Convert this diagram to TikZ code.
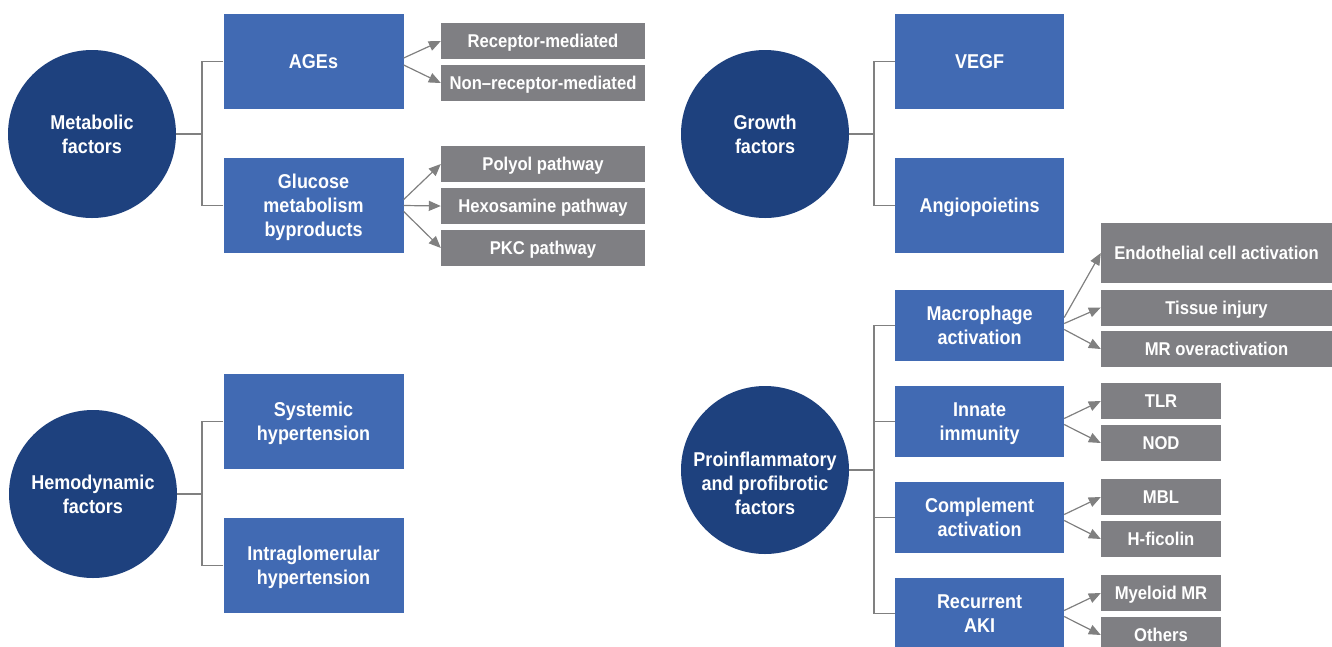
\documentclass[tikz,border=0pt]{standalone}
\usepackage{fontspec}
\setmainfont{Liberation Sans}[FakeStretch=0.9]
\usetikzlibrary{arrows.meta}
\definecolor{dkblue}{RGB}{30,65,126}
\definecolor{mblue}{RGB}{65,106,179}
\definecolor{gbox}{RGB}{127,127,131}
\definecolor{lgray}{RGB}{128,128,128}
\newcommand\bigf{\fontsize{20}{24}\selectfont\bfseries}
\newcommand\smallf{\fontsize{18.5}{22}\selectfont\bfseries}
\tikzset{
  circ/.style={circle, fill=dkblue, minimum size=168pt, inner sep=0pt},
  ctext/.style={text=white, align=center, font=\bigf, inner sep=0pt, text depth=0pt},
  bluebox/.style={rectangle, fill=mblue, text=white, align=center, font=\bigf, inner sep=0pt, text depth=0pt},
  graybox/.style={rectangle, fill=gbox, text=white, align=center, font=\smallf, inner sep=0pt, text height=13.3pt, text depth=0pt},
  link/.style={draw=lgray, line width=1.5pt},
  arr/.style={draw=lgray, line width=1.2pt, -{Triangle[length=12pt,width=10pt]}}
}
\begin{document}
\begin{tikzpicture}[x=1pt,y=-1pt]
\useasboundingbox (0,0) rectangle (1332,646);
\clip (0,0) rectangle (1332,646);
% ---------- Metabolic ----------
\node[circ, ctext] (met) at (92,134) {Metabolic\\factors};
\node[bluebox, minimum width=180pt, minimum height=95pt] (age) at (313.5,61.5) {AGEs};
\node[bluebox, minimum width=180pt, minimum height=95pt] (glu) at (313.5,205.5) {Glucose\\metabolism\\byproducts};
\node[graybox, minimum width=204pt, minimum height=36pt] (rec) at (543,41) {Receptor-mediated};
\node[graybox, minimum width=204pt, minimum height=36pt] (nonrec) at (543,83) {Non–receptor-mediated};
\node[graybox, minimum width=204pt, minimum height=36pt] (pol) at (543,164) {Polyol pathway};
\node[graybox, minimum width=204pt, minimum height=36pt] (hex) at (543,206) {Hexosamine pathway};
\node[graybox, minimum width=204pt, minimum height=36pt] (pkc) at (543,248) {PKC pathway};
\coordinate (mj) at (202,134);
\draw[link] (met.east) -- (mj);
\draw[link] (age.west) -| (mj);
\draw[link] (glu.west) -| (mj);
\draw[arr] ([yshift=3.5pt]age.east) -- (rec.west);
\draw[arr] ([yshift=-3.5pt]age.east) -- (nonrec.west);
\draw[arr] ([yshift=6pt]glu.east) -- (pol.west);
\draw[arr] (glu.east) -- (hex.west);
\draw[arr] ([yshift=-6pt]glu.east) -- (pkc.west);
% ---------- Hemodynamic ----------
\node[circ, ctext] (hem) at (93,494) {Hemodynamic\\factors};
\node[bluebox, minimum width=180pt, minimum height=95pt] (sys) at (313.5,421.5) {Systemic\\hypertension};
\node[bluebox, minimum width=180pt, minimum height=95pt] (intra) at (313.5,565.5) {Intraglomerular\\hypertension};
\coordinate (hj) at (202,494);
\draw[link] (hem.east) -- (hj);
\draw[link] (sys.west) -| (hj);
\draw[link] (intra.west) -| (hj);
% ---------- Growth ----------
\node[circ, ctext] (gro) at (765,134) {Growth\\factors};
\node[bluebox, minimum width=169pt, minimum height=95pt] (vegf) at (979.5,61.5) {VEGF};
\node[bluebox, minimum width=169pt, minimum height=95pt] (ang) at (979.5,205.5) {Angiopoietins};
\coordinate (gj) at (874,134);
\draw[link] (gro.east) -- (gj);
\draw[link] (vegf.west) -| (gj);
\draw[link] (ang.west) -| (gj);
% ---------- Proinflammatory ----------
\node[circ] (pro) at (765,470) {};
\node[ctext] (prolab) at (765,483) {Proinflammatory\\and profibrotic\\factors};
\node[bluebox, minimum width=169pt, minimum height=71pt] (mac) at (979.5,325.5) {Macrophage\\activation};
\node[bluebox, minimum width=169pt, minimum height=71pt] (inn) at (979.5,421.5) {Innate\\immunity};
\node[bluebox, minimum width=169pt, minimum height=71pt] (com) at (979.5,517.5) {Complement\\activation};
\node[bluebox, minimum width=169pt, minimum height=71pt] (rak) at (979.5,613.5) {Recurrent\\AKI};
\coordinate (pj) at (874,470);
\draw[link] (pro.east) -- (pj);
\draw[link] (mac.west) -| (pj);
\draw[link] (inn.west) -| (pj);
\draw[link] (com.west) -| (pj);
\draw[link] (rak.west) -| (pj);
\node[graybox, minimum width=231pt, minimum height=60pt] (endo) at (1216.5,253) {Endothelial cell activation};
\node[graybox, minimum width=231pt, minimum height=36pt] (tis) at (1216.5,307.5) {Tissue injury};
\node[graybox, minimum width=231pt, minimum height=36pt] (mro) at (1216.5,349) {MR overactivation};
\node[graybox, minimum width=120pt, minimum height=36pt] (tlr) at (1161,401) {TLR};
\node[graybox, minimum width=120pt, minimum height=36pt] (nod) at (1161,443) {NOD};
\node[graybox, minimum width=120pt, minimum height=36pt] (mbl) at (1161,497) {MBL};
\node[graybox, minimum width=120pt, minimum height=36pt] (hfi) at (1161,539) {H-ficolin};
\node[graybox, minimum width=120pt, minimum height=36pt] (mye) at (1161,593) {Myeloid MR};
\node[graybox, minimum width=120pt, minimum height=36pt] (oth) at (1161,635) {Others};
\draw[arr] ([yshift=8pt]mac.east) -- (endo.west);
\draw[arr] ([yshift=2pt]mac.east) -- (tis.west);
\draw[arr] ([yshift=-4pt]mac.east) -- (mro.west);
\draw[arr] ([yshift=3pt]inn.east) -- (tlr.west);
\draw[arr] ([yshift=-3pt]inn.east) -- (nod.west);
\draw[arr] ([yshift=3pt]com.east) -- (mbl.west);
\draw[arr] ([yshift=-3pt]com.east) -- (hfi.west);
\draw[arr] ([yshift=3pt]rak.east) -- (mye.west);
\draw[arr] ([yshift=-3pt]rak.east) -- (oth.west);
\end{tikzpicture}
\end{document}
